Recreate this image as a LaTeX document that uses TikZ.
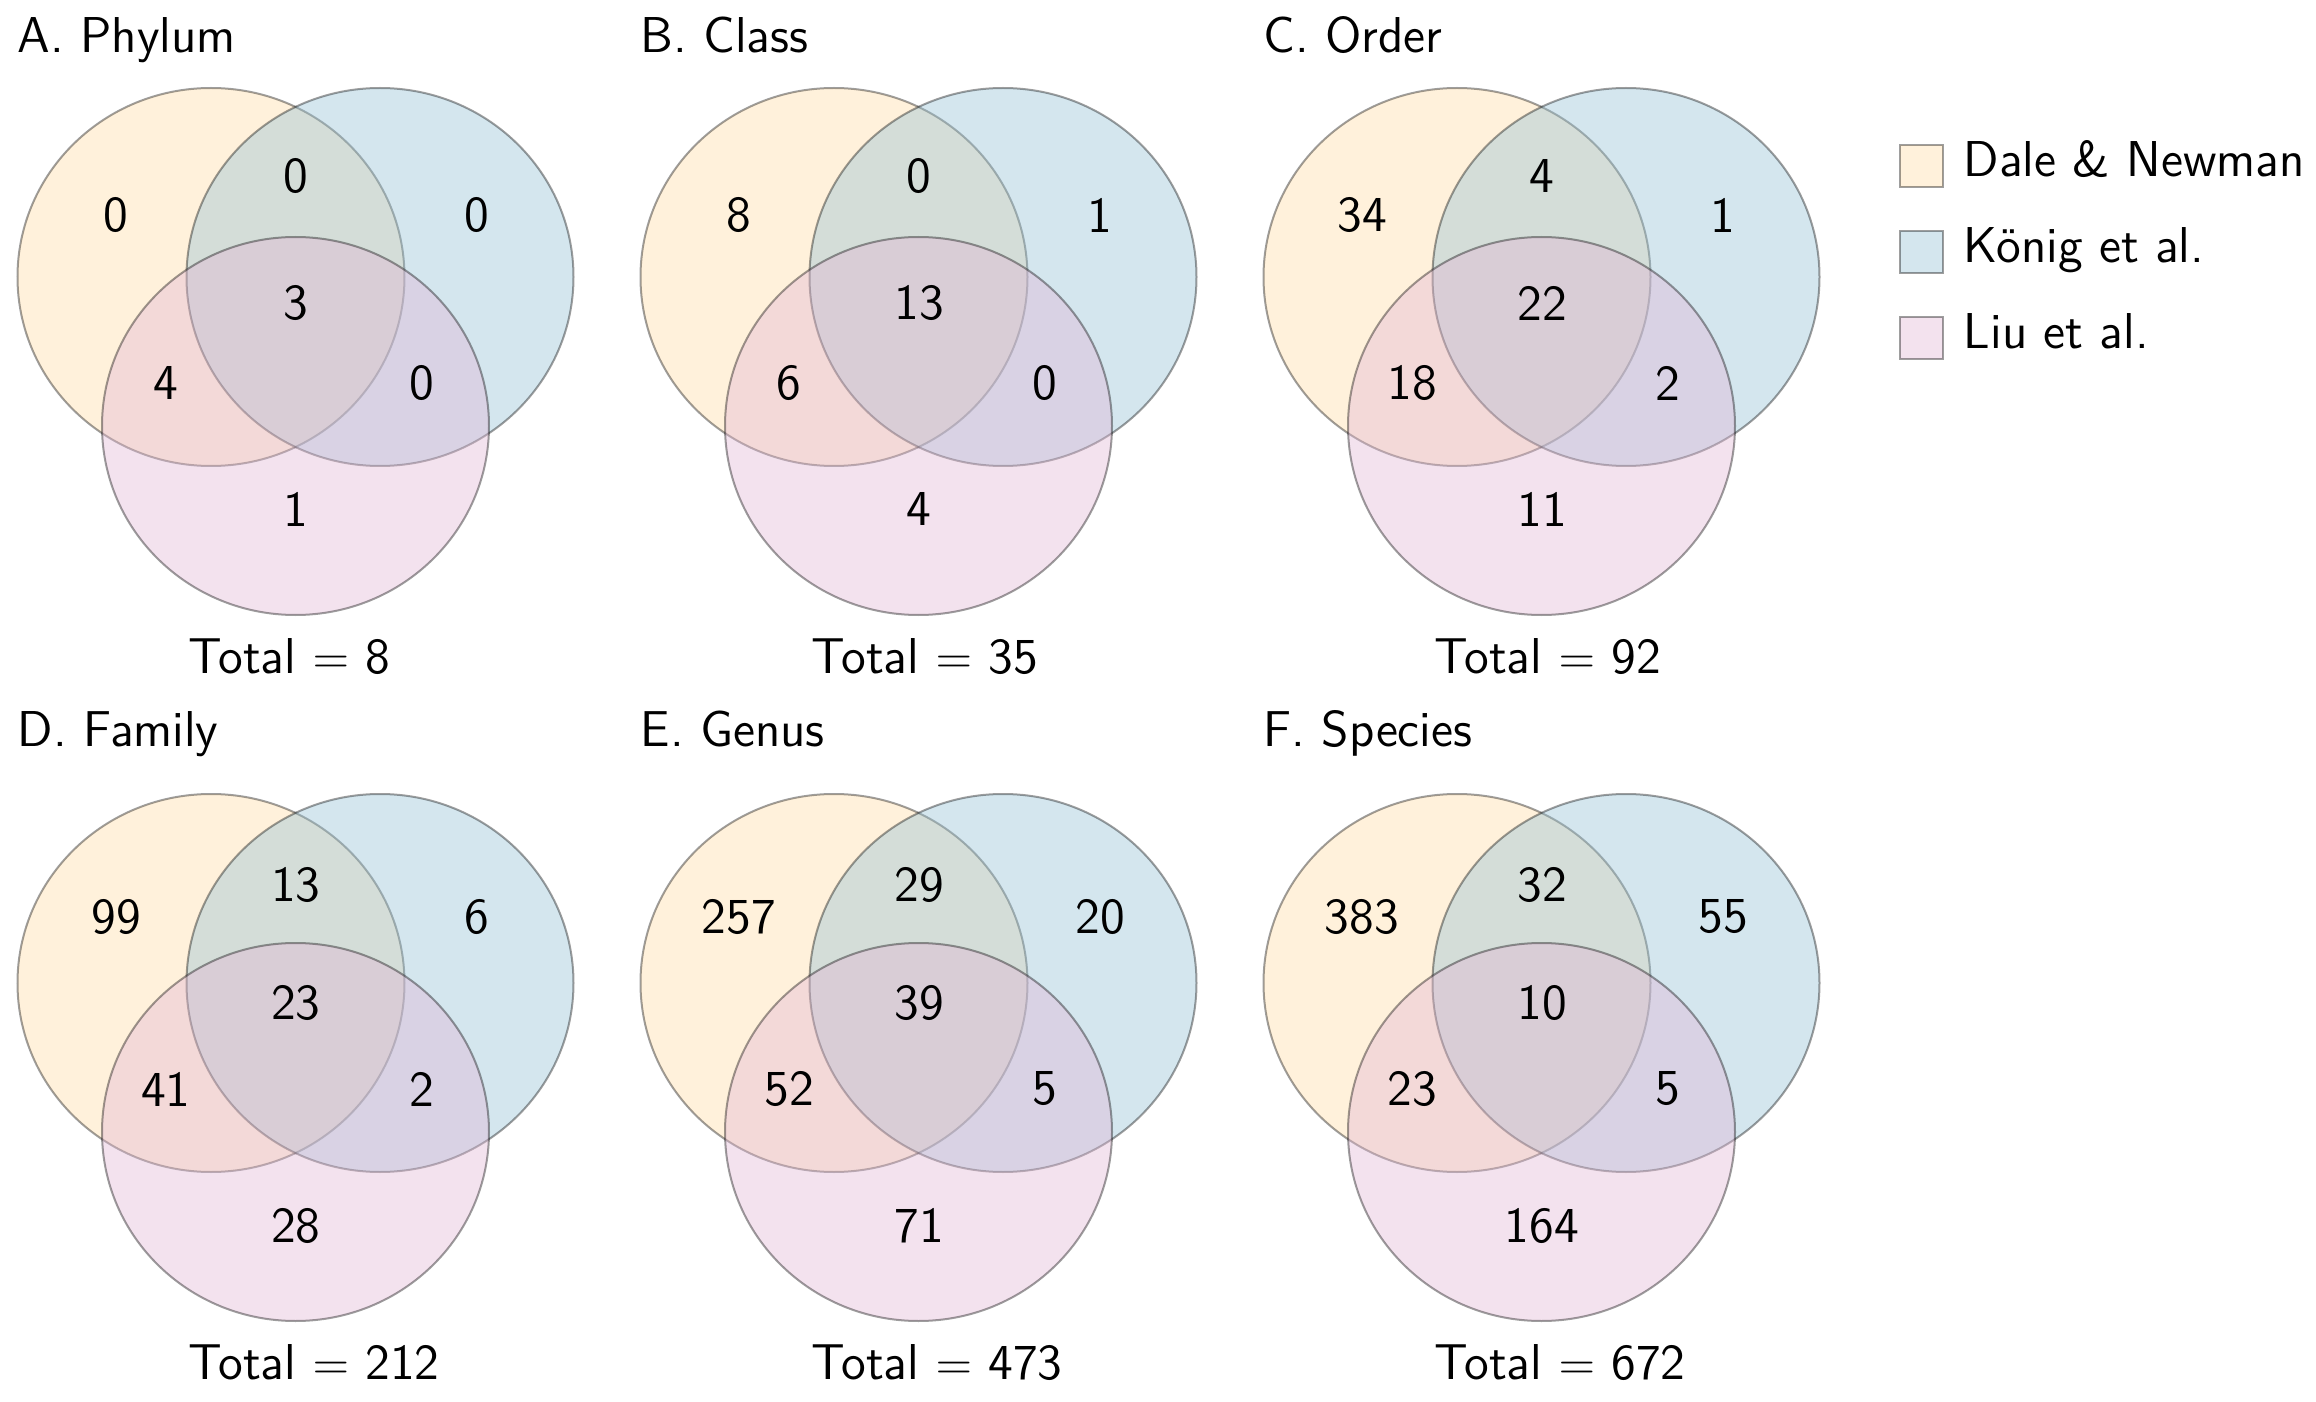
\documentclass[tikz,border=0pt]{standalone}
\usepackage{fontspec}
\usetikzlibrary{shapes.geometric}

\definecolor{dalecol}{HTML}{FFDCA5}
\definecolor{koenigcol}{HTML}{93C0D4}
\definecolor{liucol}{HTML}{E1B6D4}

\tikzset{
  venn/.style={ellipse, minimum width=96.75pt, minimum height=94.5pt, inner sep=0pt,
    draw=black, line width=0.5pt, fill opacity=0.4, draw opacity=0.38},
  legbox/.style={rectangle, minimum width=10.75pt, minimum height=10.5pt, inner sep=0pt,
    draw=black, line width=0.5pt, fill opacity=0.4, draw opacity=0.38},
  lbl/.style={font=\fontsize{12.6}{15}\sffamily, inner sep=0pt},
}

\begin{document}
\begin{tikzpicture}[x=0.25pt, y=-0.25pt]
    \useasboundingbox (0,0) rectangle (2316,1402);

    % six panels
    \foreach \id/\name/\col/\row/\da/\db/\dc/\dd/\de/\df/\dg/\tot in {
        A/Phylum/0/0/0/0/0/3/4/0/1/8,
        B/Class/1/0/8/0/1/13/6/0/4/35,
        C/Order/2/0/34/4/1/22/18/2/11/92,
        D/Family/0/1/99/13/6/23/41/2/28/212,
        E/Genus/1/1/257/29/20/39/52/5/71/473,
        F/Species/2/1/383/32/55/10/23/5/164/672}
    {
        \begin{scope}[shift={(\col*623,\row*706)}]
            % sets
            \node[venn, fill=dalecol] (dale-\id) at (211,277) {};
            \node[venn, fill=koenigcol] (koenig-\id) at (380,277) {};
            \node[venn, fill=liucol] (liu-\id) at (295.5,426) {};

            % counts
            \node[lbl] (n-\id-d) at (116,{215-4*\row}) {\da};
            \node[lbl] (n-\id-dk) at (296,{176+3*\row}) {\db};
            \node[lbl] (n-\id-k) at (477,{215-4*\row}) {\dc};
            \node[lbl] (n-\id-dkl) at (296,{303-6*\row}) {\dd};
            \node[lbl] (n-\id-dl) at (166,383) {\de};
            \node[lbl] (n-\id-kl) at (422,383) {\df};
            \node[lbl] (n-\id-l) at (296,{509+11*\row}) {\dg};

            % title and total
            \node[lbl, anchor=base west] (title-\id) at (17,{53-13*\row}) {\id. \name};
            \node[lbl, anchor=base west] (total-\id) at (188,673) {Total $=$ \tot};
        \end{scope}
    }

    % legend
    \node[legbox, fill=dalecol] (key-dale) at (1921,166) {};
    \node[legbox, fill=koenigcol] (key-koenig) at (1921,252) {};
    \node[legbox, fill=liucol] (key-liu) at (1921,338) {};
    \node[lbl, anchor=base west] (txt-dale) at (1963,177) {Dale \& Newman};
    \node[lbl, anchor=base west] (txt-koenig) at (1963,263) {König et al.};
    \node[lbl, anchor=base west] (txt-liu) at (1963,349) {Liu et al.};
\end{tikzpicture}
\end{document}
